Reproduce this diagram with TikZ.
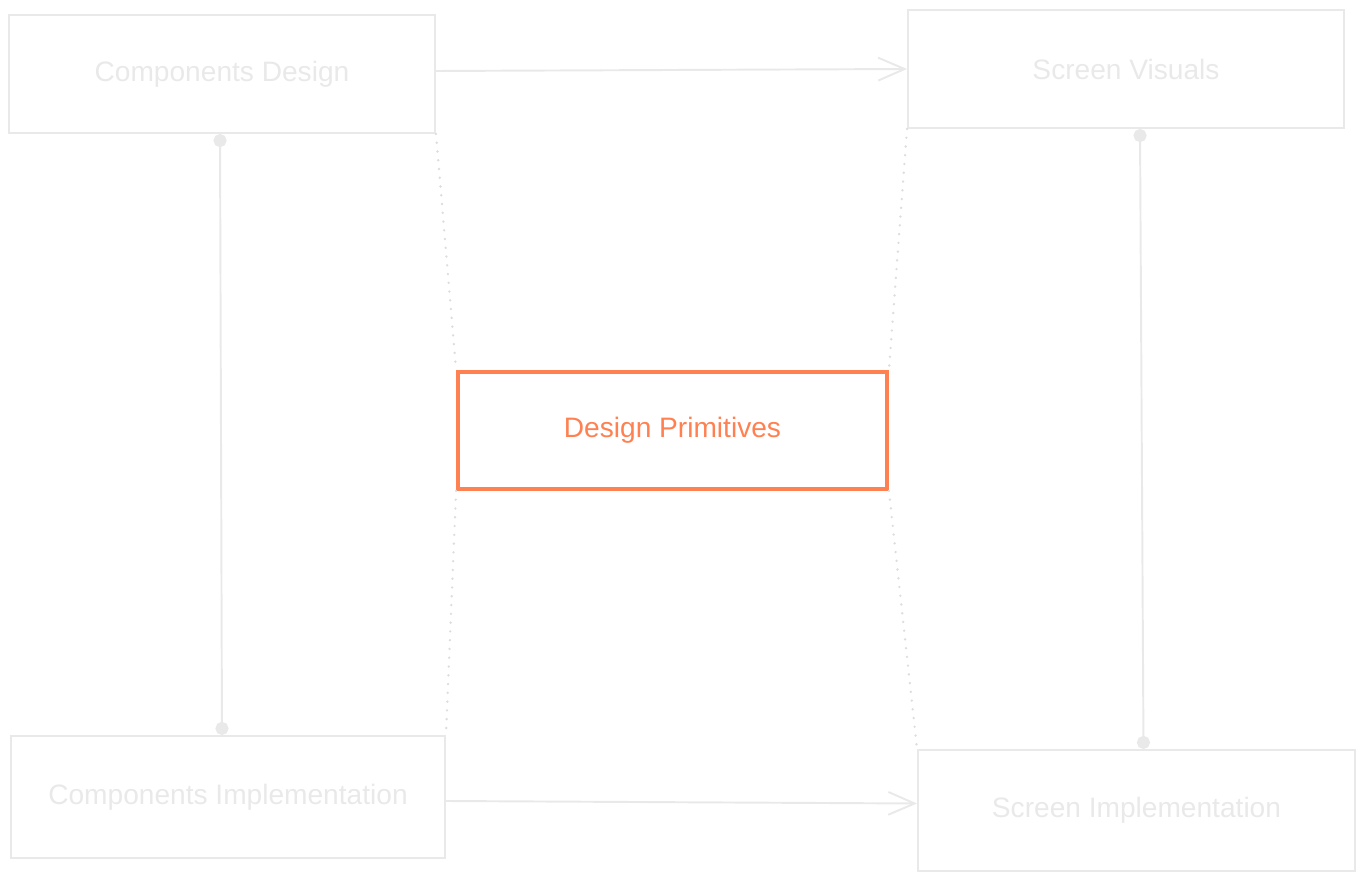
\documentclass[tikz,border=0pt]{standalone}
\usepackage{fontspec}
\setmainfont{Liberation Sans}
\usetikzlibrary{arrows.meta}
\definecolor{faint}{RGB}{233,233,233}
\definecolor{coral}{RGB}{255,128,80}
\begin{document}
\begin{tikzpicture}[
    box/.style={draw=faint, line width=1.1pt, text=faint, font=\fontsize{16}{19}\selectfont, minimum width=#1cm, minimum height=2.36cm},
    flow/.style={draw=faint, line width=1.1pt, -{Straight Barb[length=15pt,width=13pt]}},
    link/.style={draw=faint, line width=1.1pt, {Circle[length=7.5pt]}-{Circle[length=7.5pt]}},
    hint/.style={draw=faint!95!black, line width=1.5pt, line cap=round, dash pattern=on 0pt off 5pt}
]
            \useasboundingbox (0,0) rectangle (27.3,-17.62);

            \node (cd) at (4.44,-1.48)[box=8.52]{Components Design};
            \node (sv) at (22.52,-1.38)[box=8.72]{Screen Visuals};
            \node (ci) at (4.56,-15.94)[box=8.68, minimum height=2.44cm]{Components Implementation};
            \node (si) at (22.73,-16.21)[box=8.74, minimum height=2.42cm]{Screen Implementation};
            \node (dp) at (13.45,-8.61)[box=8.58, draw=coral, text=coral, line width=2.2pt, minimum height=2.34cm]{Design Primitives};

            \draw[flow] ([yshift=0.06cm]cd.east) -- (sv.west);
            \draw[flow] ([yshift=-0.08cm]ci.east) -- ([yshift=0.14cm]si.west);

            \draw[link] ([xshift=-0.04cm]cd.south) -- ([xshift=-0.12cm]ci.north);
            \draw[link] ([xshift=0.28cm]sv.south) -- ([xshift=0.14cm]si.north);

            \draw[hint] (cd.south east) -- (dp.north west);
            \draw[hint] (sv.south west) -- (dp.north east);
            \draw[hint] (dp.south west) -- (ci.north east);
            \draw[hint] (dp.south east) -- (si.north west);
        \end{tikzpicture}
\end{document}
